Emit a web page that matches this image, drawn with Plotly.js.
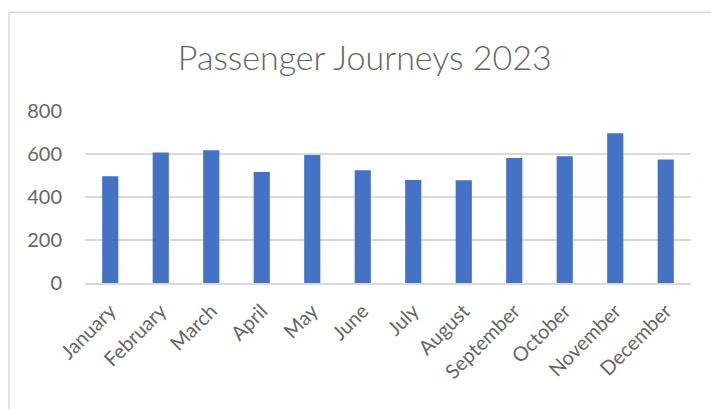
<!DOCTYPE html>
<html>
<head>
<meta charset="utf-8">
<script src="https://cdn.plot.ly/plotly-3.0.1.min.js"></script>
<style>html,body{margin:0;padding:0;background:#fff;}#chart{width:711px;height:409px;}</style>
</head>
<body>
<div id="chart"></div>
<script>
const months = ["January","February","March","April","May","June","July","August","September","October","November","December"];
const journeys = [496, 607, 618, 516, 595, 524, 479, 478, 581, 590, 697, 575];
const yTicks = [0, 200, 400, 600, 800];
const chartTitle = "Passenger Journeys 2023";

const trace = {
  type: "bar",
  x: months,
  y: journeys,
  marker: {color: "#4472C4"},
  width: 0.32,
  hoverinfo: "x+y"
};

const layout = {
  width: 711,
  height: 409,
  margin: {l: 85, r: 20, t: 111, b: 126},
  paper_bgcolor: "#ffffff",
  plot_bgcolor: "#ffffff",
  showlegend: false,
  font: {family: "Lato, 'Open Sans', sans-serif", color: "#595959"},
  title: {
    text: chartTitle,
    font: {family: "Lato, 'Open Sans', sans-serif", size: 34, color: "#666666", weight: 300},
    xref: "container", x: 0.513, xanchor: "center",
    yref: "container", y: 1 - 58/409, yanchor: "middle"
  },
  xaxis: {
    type: "category",
    tickangle: -45,
    tickfont: {size: 20, color: "#666666"},
    showgrid: false,
    showline: true,
    linecolor: "#D9D9D9",
    linewidth: 1.5,
    ticks: "",
    ticklabelstandoff: 7,
    fixedrange: true
  },
  yaxis: {
    range: [0, 800],
    tickvals: yTicks,
    ticktext: yTicks.map(String),
    tickfont: {size: 20, color: "#666666"},
    showgrid: true,
    gridcolor: "#D9D9D9",
    gridwidth: 1.5,
    zeroline: false,
    showline: false,
    ticks: "",
    ticklabelstandoff: 22,
    fixedrange: true
  },
  shapes: [{
    type: "rect",
    xref: "paper", yref: "paper",
    x0: (9 - 85) / 606, x1: 1.2,
    y0: -1.2, y1: (283.3 - 11.5) / 172.6,
    line: {color: "#D9D9D9", width: 1.5},
    fillcolor: "rgba(0,0,0,0)",
    layer: "below"
  }]
};

Plotly.newPlot("chart", [trace], layout, {displayModeBar: false, staticPlot: true});
</script>
</body>
</html>
